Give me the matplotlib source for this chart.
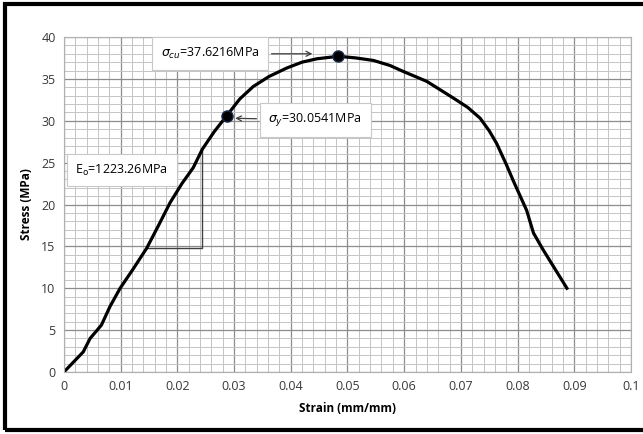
import numpy as np
import matplotlib.pyplot as plt
from matplotlib.patches import Rectangle

# stress-strain curve
strain = [0.0, 0.0034, 0.0046, 0.0066, 0.0081, 0.0099, 0.0123, 0.0146, 0.0166,
          0.0187, 0.0208, 0.0228, 0.0244, 0.0265, 0.0287, 0.0310, 0.0334, 0.0362,
          0.0393, 0.0420, 0.0446, 0.0484, 0.0515, 0.0546, 0.0575, 0.0598, 0.0640,
          0.0687, 0.0712, 0.0734, 0.0750, 0.0763, 0.0780, 0.0792, 0.0806, 0.0816,
          0.0828, 0.0845, 0.0866, 0.0887]
stress = [0.0, 2.4, 4.0, 5.6, 7.8, 10.0, 12.4, 14.8, 17.4,
          20.2, 22.5, 24.4, 26.6, 28.7, 30.6, 32.6, 34.1, 35.3,
          36.3, 37.0, 37.4, 37.7, 37.5, 37.2, 36.6, 35.9, 34.7,
          32.7, 31.6, 30.3, 28.8, 27.3, 24.8, 22.9, 20.8, 19.3,
          16.6, 14.6, 12.3, 10.0]

yield_pt = (0.0287, 30.6)
peak_pt = (0.0484, 37.7)
modulus_tri_x = [0.0146, 0.0244, 0.0244]
modulus_tri_y = [14.77, 14.77, 26.6]

labels = [r"$\sigma_{cu}$=37.6216MPa", r"$\sigma_{y}$=30.0541MPa",
          r"E$_{\mathrm{o}}$=1223.26MPa"]

plt.rcParams['font.family'] = ['Open Sans', 'DejaVu Sans']

fig = plt.figure(figsize=(6.43, 4.34), dpi=100)
ax = fig.add_axes([0.0995, 0.1429, 0.8818, 0.7718])

ax.set_xlim(0, 0.1)
ax.set_ylim(0, 40)
ax.set_xticks(np.arange(0, 0.101, 0.01))
ax.set_xticklabels(["0", "0.01", "0.02", "0.03", "0.04", "0.05", "0.06",
                    "0.07", "0.08", "0.09", "0.1"])
ax.set_yticks(np.arange(0, 41, 5))
ax.set_xticks(np.arange(0, 0.1001, 0.002), minor=True)
ax.set_yticks(np.arange(0, 41, 1), minor=True)
ax.grid(which='major', color='#8c8c8c', lw=0.9)
ax.grid(which='minor', color='#c4c4c4', lw=0.7)
ax.set_axisbelow(True)
ax.tick_params(which='both', length=0, labelsize=9, labelcolor='#383838', pad=6)
for s in ax.spines.values():
    s.set_color('#b0b0b0')

ax.plot(modulus_tri_x, modulus_tri_y, color='#404040', lw=1.0)
ax.plot(strain, stress, color='black', lw=2.3, solid_joinstyle='round')
ax.plot(*yield_pt, 'o', color='black', ms=8, mec='#1a2a4a')
ax.plot(*peak_pt, 'o', color='black', ms=8, mec='#1a2a4a')

box = dict(boxstyle='square,pad=0.7', fc='white', ec='#c8c8c8', lw=0.8)
ax.annotate(labels[0], xy=(0.0443, 38.0), xytext=(0.0258, 38.0), fontsize=9,
            ha='center', va='center', bbox=box,
            arrowprops=dict(arrowstyle='->', color='#404040', lw=0.9))
ax.annotate(labels[1], xy=(0.0297, 30.3), xytext=(0.0443, 30.1), fontsize=9,
            ha='center', va='center', bbox=box,
            arrowprops=dict(arrowstyle='->', color='#404040', lw=0.9))
ax.text(0.0102, 24.1, labels[2], fontsize=9, ha='center', va='center', bbox=box)

ax.set_xlabel("Strain (mm/mm)", fontsize=8.5, fontweight='bold', labelpad=6)
ax.set_ylabel("Stress (MPa)", fontsize=8.5, fontweight='bold', labelpad=6)

fig.patches.append(Rectangle((0.008, 0.01), 1.1, 0.98, transform=fig.transFigure,
                             fill=False, ec='black', lw=3))

fig.savefig("out.png", dpi=100)
